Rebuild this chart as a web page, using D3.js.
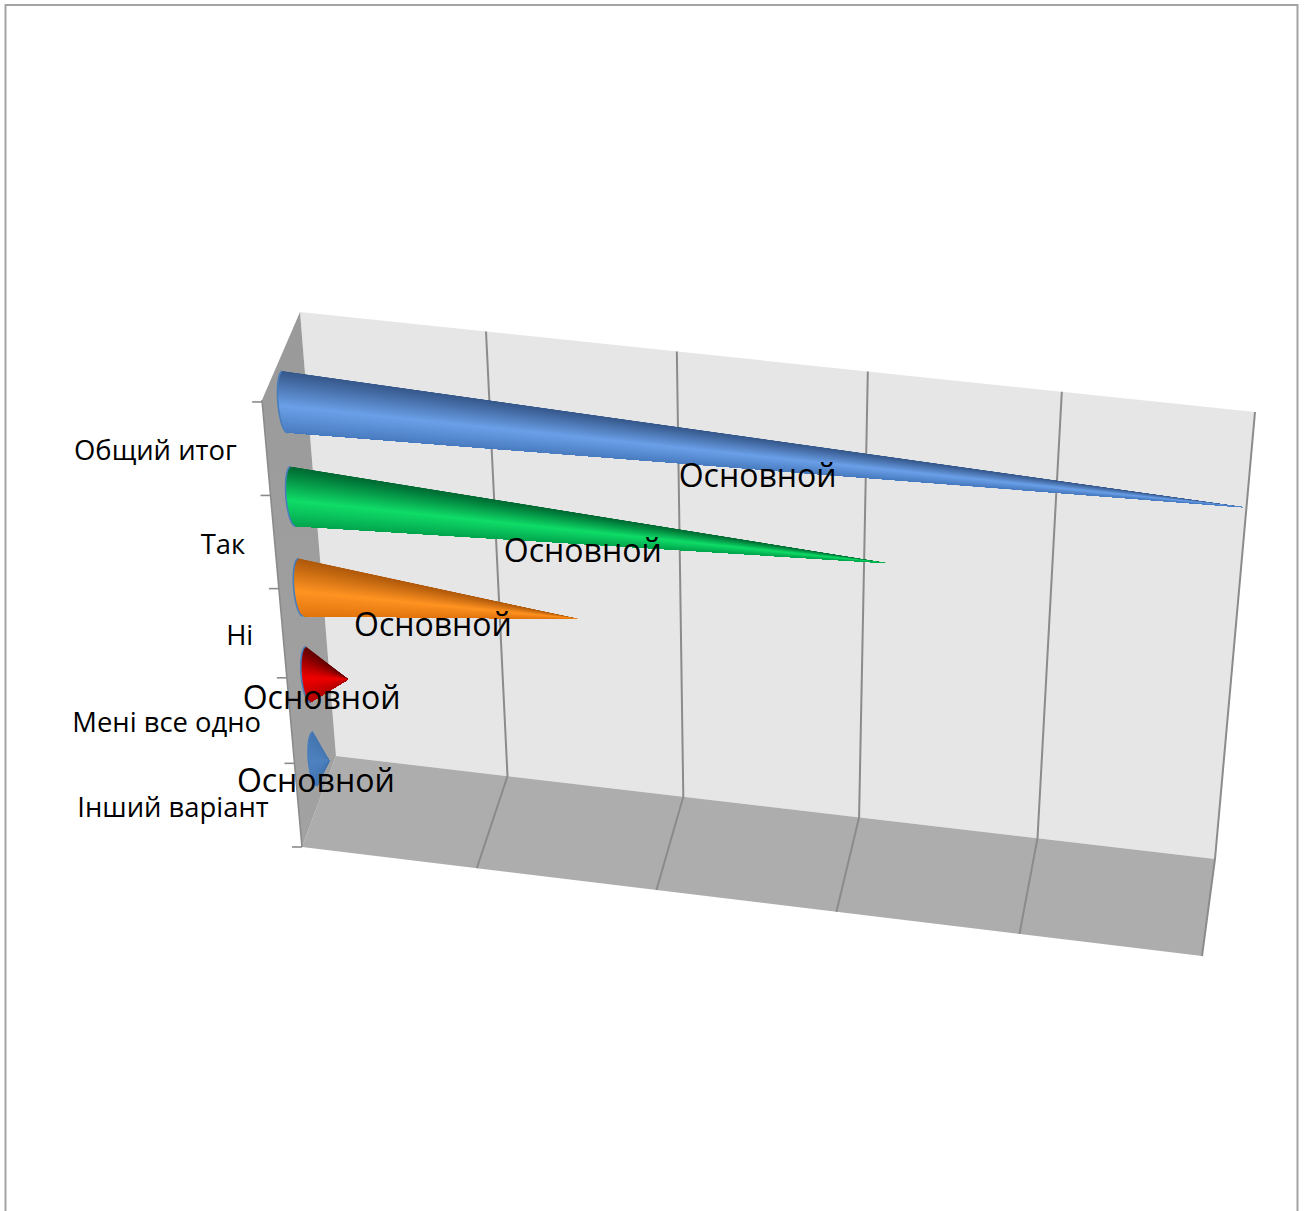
<!DOCTYPE html>
<html>
<head>
<meta charset="utf-8">
<script src="https://cdn.jsdelivr.net/npm/d3@7/dist/d3.min.js"></script>
<style>
html,body{margin:0;padding:0;background:#fff;overflow:hidden}
svg{display:block}
text{font-family:"Open Sans",sans-serif;fill:#000}
</style>
</head>
<body>
<div id="chart"></div>
<script>
// ---- data ----
const categories = ["Общий итог", "Так", "Ні", "Мені все одно", "Інший варіант"];
const values = [100, 63.3, 30.4, 4.5, 1.6];
const seriesName = "Основной";
const valueTicks = [0, 20, 40, 60, 80, 100];
const shadeStops = [
  ["#37598c", "#6ba0e8", "#4a7cc0"],
  ["#006a33", "#10dc68", "#04a64f"],
  ["#b05a0c", "#ff9322", "#e2760f"],
  ["#660000", "#f00000", "#b50000"],
  ["#4677b2", "#4f82c0", "#4677b2"]
];

// ---- layout ----
const W = 1307, H = 1211;
const backQuad = [[300,312],[1255,412],[1215,859],[336,756]];
const frontQuad = [[262,400],[1240,510],[1202,956],[302,847]];
const coneRadius = 0.0645;
const bulge = [-7, 1];

function homography(q){
  const [[x0,y0],[x1,y1],[x2,y2],[x3,y3]] = q;
  const dx1=x1-x2, dx2=x3-x2, sx=x0-x1+x2-x3;
  const dy1=y1-y2, dy2=y3-y2, sy=y0-y1+y2-y3;
  const den=dx1*dy2-dx2*dy1;
  const g=(sx*dy2-dx2*sy)/den, h=(dx1*sy-sx*dy1)/den;
  const a=x1-x0+g*x1, b=x3-x0+h*x3, c=x0;
  const d=y1-y0+g*y1, e=y3-y0+h*y3, f=y0;
  return (u,v)=>{const w=g*u+h*v+1;return [(a*u+b*v+c)/w,(d*u+e*v+f)/w];};
}
const hBack = homography(backQuad), hFront = homography(frontQuad);
const project = (u,v,depth)=>{
  const p=hBack(u,v), q=hFront(u,v);
  return [p[0]+(q[0]-p[0])*depth, p[1]+(q[1]-p[1])*depth];
};

const uScale = d3.scaleLinear().domain(valueTicks).range([0,.199,.401,.601,.802,1]);
const uFloorFront = d3.scaleLinear().domain(valueTicks).range([0,.197,.398,.598,.8,1]);
const vScale = d3.scaleLinear().domain(d3.range(6)).range([.004,.2,.402,.602,.8,1]);
const bandV = i => vScale(i+.5) - (i===0 ? .006 : .003);

const svg = d3.select("#chart").append("svg").attr("width",W).attr("height",H);
const line = d3.line();

// chart frame
svg.append("rect").attr("x",5.5).attr("y",5).attr("width",1292).attr("height",1240)
  .attr("fill","#fff").attr("stroke","#a3a3a3").attr("stroke-width",2);

// walls
const floorPts=[project(0,1,0),project(1,1,0),project(1,1,1),project(0,1,1)];
const sidePts=[project(0,0,0),project(0,0,1),project(0,1,1),project(0,1,0)];
svg.append("path").attr("d",line(backQuad)+"Z").attr("fill","#e6e6e6");
svg.append("path").attr("d",line(floorPts)+"Z").attr("fill","#adadad");
const defs=svg.append("defs");
const wallGrad=defs.append("linearGradient").attr("id","wall").attr("x1",0).attr("y1",0).attr("x2",0).attr("y2",1);
wallGrad.append("stop").attr("offset",0).attr("stop-color","#9a9a9a");
wallGrad.append("stop").attr("offset",1).attr("stop-color","#a2a2a2");
svg.append("path").attr("d",line(sidePts)+"Z").attr("fill","url(#wall)");

// gridlines on back wall and floor
const gridColor="#8b8b8b";
valueTicks.slice(1).forEach(t=>{
  const u=uScale(t);
  const frontEnd=hFront(uFloorFront(t),1);
  svg.append("path").attr("d",line([project(u,0,0),project(u,1,0),frontEnd]))
    .attr("fill","none").attr("stroke",gridColor).attr("stroke-width",2);
});
// axis edges
svg.append("path").attr("d",line([project(0,0,1),project(0,1,1)]))
  .attr("fill","none").attr("stroke",gridColor).attr("stroke-width",1.6);
d3.range(6).forEach(i=>{
  const p=hFront(0,vScale(i));
  svg.append("line").attr("x1",p[0]-10).attr("x2",p[0]).attr("y1",p[1]).attr("y2",p[1])
    .attr("stroke",gridColor).attr("stroke-width",1.6);
});

// cones: painted back to front so neighbouring slices leave no seams
const slices=90;
const shadeAt=d3.scaleLinear().domain([-1,.08,1]).range([0,.5,1]);
categories.forEach((cat,i)=>{
  const v=bandV(i), u=uScale(values[i]);
  const tip=project(u,v,.5);
  const shade=d3.piecewise(d3.interpolateRgb,shadeStops[i]);
  const basePt=s=>{
    const p=project(0,v+s*coneRadius,.5), k=Math.sqrt(Math.max(0,1-s*s));
    return [p[0]+bulge[0]*k,p[1]+bulge[1]*k];
  };
  const g=svg.append("g").attr("class","cone");
  const ss=d3.range(slices+1).map(j=>-Math.cos(Math.PI*j/slices));
  ss.slice(0,-1).forEach((a,j)=>{
    const rest=ss.slice(j).map(basePt);
    g.append("path").attr("d",line([...rest,tip])+"Z")
      .attr("fill",shade(shadeAt((a+ss[j+1])/2)));
  });
  g.append("path").attr("d",line(ss.map(basePt)))
    .attr("fill","none").attr("stroke","#4a7ebb").attr("stroke-width",1.6);
});

// category labels
categories.forEach((cat,i)=>{
  const p=hFront(0,vScale(i+.5)-.003);
  svg.append("text").attr("x",p[0]-29.5).attr("y",p[1]+2).attr("text-anchor","end")
    .attr("dominant-baseline","central").attr("font-size",27.4).text(cat);
});
// data labels
categories.forEach((cat,i)=>{
  const v=bandV(i), a=project(0,v,.5), b=project(uScale(values[i]),v,.5);
  svg.append("text").attr("x",(a[0]+b[0])/2-6.5).attr("y",(a[1]+b[1])/2+20).attr("text-anchor","middle")
    .attr("dominant-baseline","central").attr("font-size",32).text(seriesName);
});
</script>
</body>
</html>
